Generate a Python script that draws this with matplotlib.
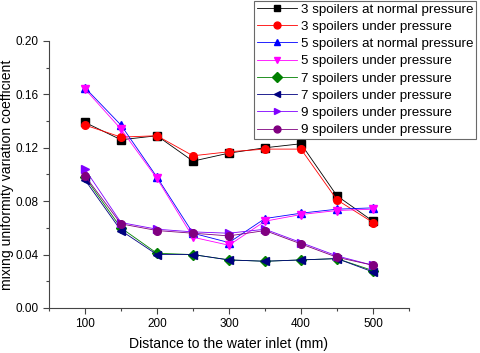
import matplotlib
matplotlib.use("Agg")
import matplotlib.pyplot as plt
from matplotlib.ticker import MultipleLocator

plt.rcParams['font.family'] = ['Liberation Sans', 'DejaVu Sans']

x = [100, 150, 200, 250, 300, 350, 400, 450, 500]
s3_normal = [0.139, 0.126, 0.129, 0.110, 0.116, 0.120, 0.123, 0.084, 0.065]
s3_under = [0.137, 0.128, 0.129, 0.114, 0.117, 0.119, 0.119, 0.081, 0.064]
s5_normal = [0.165, 0.137, 0.098, 0.056, 0.049, 0.067, 0.071, 0.074, 0.075]
s5_under = [0.164, 0.134, 0.097, 0.053, 0.047, 0.065, 0.070, 0.073, 0.074]
s7_a = [0.098, 0.060, 0.041, 0.040, 0.036, 0.035, 0.036, 0.037, 0.028]
s7_b = [0.096, 0.058, 0.040, 0.040, 0.036, 0.035, 0.036, 0.037, 0.027]
s9_a = [0.104, 0.064, 0.059, 0.057, 0.056, 0.059, 0.049, 0.039, 0.032]
s9_b = [0.099, 0.063, 0.058, 0.056, 0.054, 0.058, 0.048, 0.038, 0.032]

labels = ["3 spoilers at normal pressure", "3 spoilers under pressure",
          "5 spoilers at normal pressure", "5 spoilers under pressure",
          "7 spoilers under pressure", "7 spoilers under pressure",
          "9 spoilers under pressure", "9 spoilers under pressure"]
series = [s3_normal, s3_under, s5_normal, s5_under, s7_a, s7_b, s9_a, s9_b]
colors = ["#000000", "#ff0000", "#0000ff", "#ff00ff", "#008000", "#000080", "#8000ff", "#800080"]
markers = ["s", "o", "^", "v", "D", "<", ">", "o"]

fig = plt.figure(figsize=(4.8, 3.53), dpi=100)
ax = fig.add_axes([0.102, 0.1275, 0.750, 0.7565])

for y, c, m, lab in zip(series, colors, markers, labels):
    ax.plot(x, y, color=c, marker=m, markersize=5.5, linewidth=0.6, label=lab)

ax.set_xlim(50, 550)
ax.set_ylim(0, 0.20)
ax.xaxis.set_major_locator(MultipleLocator(100))
ax.xaxis.set_minor_locator(MultipleLocator(50))
ax.yaxis.set_major_locator(MultipleLocator(0.04))
ax.yaxis.set_minor_locator(MultipleLocator(0.02))
ax.set_yticklabels([f"{v:.2f}" for v in ax.get_yticks()])
ax.spines['top'].set_visible(False)
ax.spines['right'].set_visible(False)
for sp in ['left', 'bottom']:
    ax.spines[sp].set_color('#444444')
ax.tick_params(which='major', length=4, width=0.8, labelsize=8.5, colors='#444444', labelcolor='black')
ax.tick_params(which='minor', length=2.5, width=0.8, colors='#444444')
ax.set_xlabel("Distance to the water inlet (mm)", fontsize=10.1, labelpad=5)
ax.set_ylabel("mixing uniformity variation coefficient", fontsize=10.1)
ax.yaxis.set_label_coords(-0.097, 0.5)

leg = fig.legend(loc='upper right', bbox_to_anchor=(0.997, 1.006), fontsize=9.6,
                 frameon=True, fancybox=False, edgecolor='#444444',
                 borderpad=0.2, labelspacing=0.37, handlelength=3.0, handletextpad=0.3,
                 borderaxespad=0.2, markerscale=0.9)
leg.get_frame().set_linewidth(0.8)

fig.savefig("out.png", dpi=100)
